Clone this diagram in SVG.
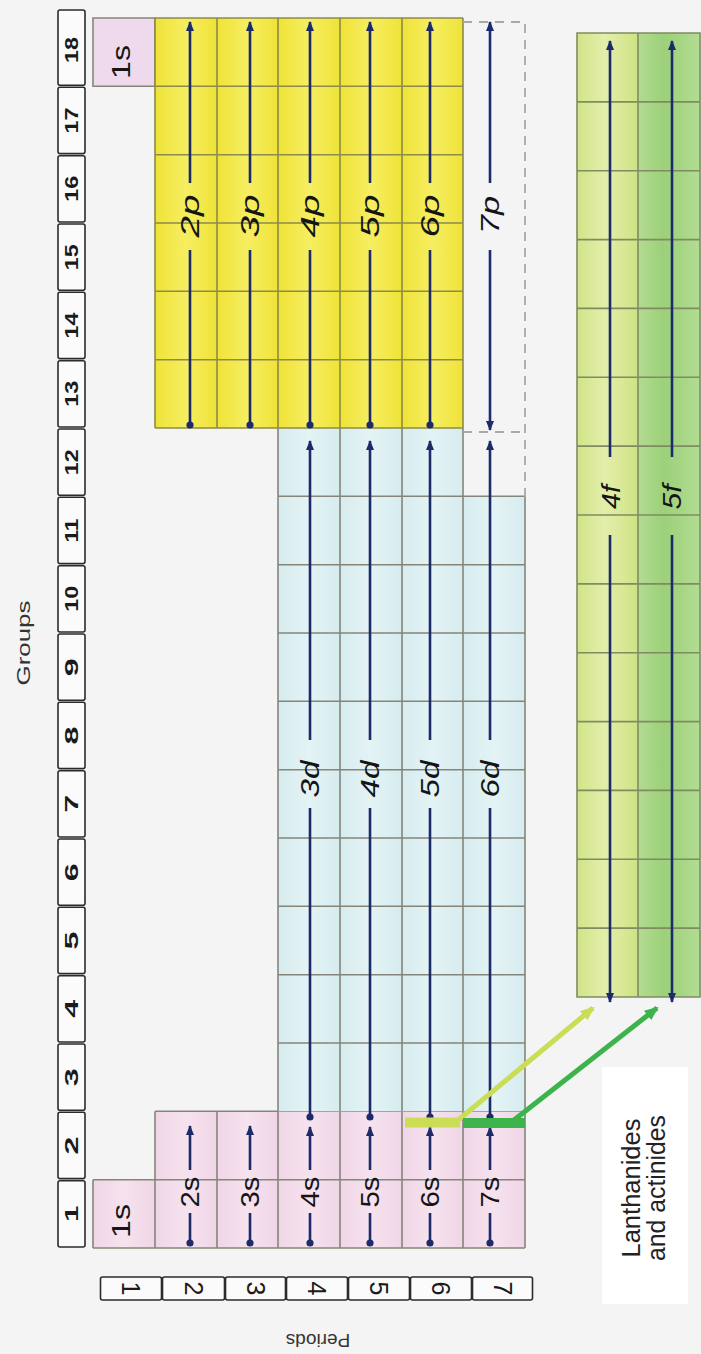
<svg xmlns="http://www.w3.org/2000/svg" width="701" height="1354" viewBox="0 0 701 1354">
<style>
.cellline{fill:none;stroke:#85857a;stroke-width:1.6}
.yline{fill:none;stroke:#8d8a4a;stroke-width:1.6}
.gline{fill:none;stroke:#7f8c62;stroke-width:1.6}
.hdr{fill:#fbfbfb;stroke:#2b2b2b;stroke-width:1.6}
.num{font-family:"Liberation Sans",Arial,sans-serif;font-weight:bold;font-size:19px;fill:#1a1a1a}
.pnum{font-family:"Liberation Sans",Arial,sans-serif;font-size:25px;fill:#1a1a1a}
.lab{font-family:"Liberation Sans",Arial,sans-serif;font-size:26px;fill:#151515}
.it{font-style:italic}
.arr{fill:none;stroke:#1d2b6b;stroke-width:2.6}
.title{font-family:"Liberation Sans",Arial,sans-serif;font-size:19px;fill:#333}
.lan{font-family:"Liberation Sans",Arial,sans-serif;font-size:25px;fill:#222}
.dash{fill:none;stroke:#a8a8a8;stroke-width:1.8;stroke-dasharray:9 7}
</style>
<defs>
<linearGradient id="gy" gradientUnits="userSpaceOnUse" x1="155" y1="0" x2="216.67" y2="0" spreadMethod="repeat">
<stop offset="0" stop-color="#efe337"/><stop offset="0.5" stop-color="#f6ee62"/><stop offset="1" stop-color="#efe337"/>
</linearGradient>
<linearGradient id="gb" gradientUnits="userSpaceOnUse" x1="278" y1="0" x2="339.67" y2="0" spreadMethod="repeat">
<stop offset="0" stop-color="#d6ecef"/><stop offset="0.5" stop-color="#e4f3f5"/><stop offset="1" stop-color="#d6ecef"/>
</linearGradient>
<linearGradient id="gp" gradientUnits="userSpaceOnUse" x1="93" y1="0" x2="154.67" y2="0" spreadMethod="repeat">
<stop offset="0" stop-color="#f0d6e7"/><stop offset="0.5" stop-color="#f6e2ee"/><stop offset="1" stop-color="#f0d6e7"/>
</linearGradient>
<linearGradient id="gf4" gradientUnits="userSpaceOnUse" x1="577" y1="0" x2="638" y2="0">
<stop offset="0" stop-color="#d0e488"/><stop offset="0.45" stop-color="#e3eeaa"/><stop offset="0.7" stop-color="#dbe99a"/><stop offset="1" stop-color="#cce383"/>
</linearGradient>
<linearGradient id="gf5" gradientUnits="userSpaceOnUse" x1="638" y1="0" x2="700" y2="0">
<stop offset="0" stop-color="#b3dc92"/><stop offset="0.4" stop-color="#9dd07a"/><stop offset="0.7" stop-color="#a6d684"/><stop offset="1" stop-color="#b4dd94"/>
</linearGradient>
<marker id="ah" viewBox="0 0 10 8" refX="9" refY="4" markerWidth="10" markerHeight="8" markerUnits="userSpaceOnUse" orient="auto">
<path d="M0,0L10,4L0,8z" fill="#1d2b6b"/>
</marker>
<marker id="dot" viewBox="0 0 8 8" refX="4" refY="4" markerWidth="8" markerHeight="8" markerUnits="userSpaceOnUse">
<circle cx="4" cy="4" r="3.6" fill="#1d2b6b"/>
</marker>
<marker id="ahL" viewBox="0 0 14 12" refX="12" refY="6" markerWidth="14" markerHeight="12" markerUnits="userSpaceOnUse" orient="auto">
<path d="M0,0L14,6L0,12z" fill="#cadd55"/>
</marker>
<marker id="ahD" viewBox="0 0 14 12" refX="12" refY="6" markerWidth="14" markerHeight="12" markerUnits="userSpaceOnUse" orient="auto">
<path d="M0,0L14,6L0,12z" fill="#3cb44b"/>
</marker>
</defs>

<rect x="0" y="0" width="701" height="1354" fill="#f4f4f4"/>

<g id="groups-label"><text class="title" text-anchor="middle" dominant-baseline="central" textLength="85" lengthAdjust="spacingAndGlyphs" transform="translate(23,643) rotate(-90)">Groups</text></g>

<g id="groups-header">
<rect class="hdr" x="58" y="10" width="27" height="75.3" rx="2"/>
<rect class="hdr" x="58" y="87.3" width="27" height="66.3" rx="2"/>
<rect class="hdr" x="58" y="155.7" width="27" height="66.3" rx="2"/>
<rect class="hdr" x="58" y="224" width="27" height="66.3" rx="2"/>
<rect class="hdr" x="58" y="292.3" width="27" height="66.3" rx="2"/>
<rect class="hdr" x="58" y="360.7" width="27" height="66.3" rx="2"/>
<rect class="hdr" x="58" y="429" width="27" height="66.3" rx="2"/>
<rect class="hdr" x="58" y="497.3" width="27" height="66.3" rx="2"/>
<rect class="hdr" x="58" y="565.7" width="27" height="66.3" rx="2"/>
<rect class="hdr" x="58" y="634" width="27" height="66.3" rx="2"/>
<rect class="hdr" x="58" y="702.3" width="27" height="66.3" rx="2"/>
<rect class="hdr" x="58" y="770.7" width="27" height="66.3" rx="2"/>
<rect class="hdr" x="58" y="839" width="27" height="66.3" rx="2"/>
<rect class="hdr" x="58" y="907.3" width="27" height="66.3" rx="2"/>
<rect class="hdr" x="58" y="975.7" width="27" height="66.3" rx="2"/>
<rect class="hdr" x="58" y="1044" width="27" height="66.3" rx="2"/>
<rect class="hdr" x="58" y="1112.3" width="27" height="66.3" rx="2"/>
<rect class="hdr" x="58" y="1180.7" width="27" height="66.3" rx="2"/>
<g text-anchor="middle" dominant-baseline="central">
<text class="num" textLength="26" lengthAdjust="spacingAndGlyphs" transform="translate(71.5,50) rotate(-90)">18</text>
<text class="num" textLength="26" lengthAdjust="spacingAndGlyphs" transform="translate(71.5,120.5) rotate(-90)">17</text>
<text class="num" textLength="26" lengthAdjust="spacingAndGlyphs" transform="translate(71.5,188.8) rotate(-90)">16</text>
<text class="num" textLength="26" lengthAdjust="spacingAndGlyphs" transform="translate(71.5,257.2) rotate(-90)">15</text>
<text class="num" textLength="26" lengthAdjust="spacingAndGlyphs" transform="translate(71.5,325.5) rotate(-90)">14</text>
<text class="num" textLength="26" lengthAdjust="spacingAndGlyphs" transform="translate(71.5,393.8) rotate(-90)">13</text>
<text class="num" textLength="26" lengthAdjust="spacingAndGlyphs" transform="translate(71.5,462.2) rotate(-90)">12</text>
<text class="num" textLength="24" lengthAdjust="spacingAndGlyphs" transform="translate(71.5,530.5) rotate(-90)">11</text>
<text class="num" textLength="26" lengthAdjust="spacingAndGlyphs" transform="translate(71.5,598.8) rotate(-90)">10</text>
<text class="num" textLength="18" lengthAdjust="spacingAndGlyphs" transform="translate(71.5,667.2) rotate(-90)">9</text>
<text class="num" textLength="18" lengthAdjust="spacingAndGlyphs" transform="translate(71.5,735.5) rotate(-90)">8</text>
<text class="num" textLength="18" lengthAdjust="spacingAndGlyphs" transform="translate(71.5,803.8) rotate(-90)">7</text>
<text class="num" textLength="18" lengthAdjust="spacingAndGlyphs" transform="translate(71.5,872.2) rotate(-90)">6</text>
<text class="num" textLength="18" lengthAdjust="spacingAndGlyphs" transform="translate(71.5,940.5) rotate(-90)">5</text>
<text class="num" textLength="18" lengthAdjust="spacingAndGlyphs" transform="translate(71.5,1008.8) rotate(-90)">4</text>
<text class="num" textLength="18" lengthAdjust="spacingAndGlyphs" transform="translate(71.5,1077.2) rotate(-90)">3</text>
<text class="num" textLength="18" lengthAdjust="spacingAndGlyphs" transform="translate(71.5,1145.5) rotate(-90)">2</text>
<text class="num" textLength="16" lengthAdjust="spacingAndGlyphs" transform="translate(71.5,1213.8) rotate(-90)">1</text>
</g>
</g>

<g id="s-block">
<rect x="93" y="1179.7" width="62" height="68.3" fill="url(#gp)"/>
<rect x="93" y="18" width="62" height="68.3" fill="#eedaec"/>
<rect x="155" y="1111.3" width="370" height="136.7" fill="url(#gp)"/>
<path class="cellline" d="M93 18H155V86.3H93Z M93 1179.7V1248 M155 1111.3V1248 M217 1111.3V1248 M278 1111.3V1248 M340 1111.3V1248 M402 1111.3V1248 M463 1111.3V1248 M525 1111.3V1248 M93 1179.7H525 M93 1248H525 M155 1111.3H525"/>
</g>

<g id="d-block">
<rect x="278" y="428" width="185" height="683.3" fill="url(#gb)"/>
<rect x="463" y="496.3" width="62" height="615" fill="url(#gb)"/>
<path class="cellline" d="M278 428V1111.3 M340 428V1111.3 M402 428V1111.3 M463 428V1111.3 M525 496.3V1111.3 M278 496.3H525 M278 564.7H525 M278 633H525 M278 701.3H525 M278 769.7H525 M278 838H525 M278 906.3H525 M278 974.7H525 M278 1043H525"/>
</g>

<g id="p-block">
<rect x="155" y="18" width="308" height="410" fill="url(#gy)"/>
<path class="yline" d="M155 18V428 M217 18V428 M278 18V428 M340 18V428 M402 18V428 M463 18V428 M155 18H463 M155 86.3H463 M155 154.7H463 M155 223H463 M155 291.3H463 M155 359.7H463 M155 428H463"/>
<path class="dash" d="M463 22H525V497 M463 432H525"/>
</g>

<g id="f-block">
<rect x="577" y="33" width="61" height="964" fill="url(#gf4)"/>
<rect x="638" y="33" width="62" height="964" fill="url(#gf5)"/>
<path class="gline" d="M577 33H700V997H577Z M638 33V997 M577 101.9H700 M577 170.7H700 M577 239.6H700 M577 308.4H700 M577 377.3H700 M577 446.1H700 M577 515H700 M577 583.9H700 M577 652.7H700 M577 721.6H700 M577 790.4H700 M577 859.3H700 M577 928.1H700"/>
</g>

<g id="periods">
<rect class="hdr" x="100.5" y="1277" width="61" height="23" rx="2"/>
<rect class="hdr" x="162.5" y="1277" width="62" height="23" rx="2"/>
<rect class="hdr" x="225.5" y="1277" width="60" height="23" rx="2"/>
<rect class="hdr" x="286.5" y="1277" width="61" height="23" rx="2"/>
<rect class="hdr" x="348.5" y="1277" width="61" height="23" rx="2"/>
<rect class="hdr" x="410.5" y="1277" width="61" height="23" rx="2"/>
<rect class="hdr" x="472.5" y="1277" width="60" height="23" rx="2"/>
<g text-anchor="middle" dominant-baseline="central">
<text class="pnum" transform="translate(131,1288.5) rotate(90)">1</text>
<text class="pnum" transform="translate(193.5,1288.5) rotate(90)">2</text>
<text class="pnum" transform="translate(255.5,1288.5) rotate(90)">3</text>
<text class="pnum" transform="translate(317,1288.5) rotate(90)">4</text>
<text class="pnum" transform="translate(379,1288.5) rotate(90)">5</text>
<text class="pnum" transform="translate(441,1288.5) rotate(90)">6</text>
<text class="pnum" transform="translate(502.5,1288.5) rotate(90)">7</text>
</g>
<text class="title" text-anchor="middle" dominant-baseline="central" transform="translate(318,1340) rotate(180)">Periods</text>
</g>

<g id="lanthanides-label">
<rect x="602" y="1067" width="86" height="237" fill="#ffffff"/>
<text class="lan" text-anchor="middle" textLength="139" lengthAdjust="spacingAndGlyphs" transform="translate(640,1188) rotate(-90)">Lanthanides</text>
<text class="lan" text-anchor="middle" textLength="146" lengthAdjust="spacingAndGlyphs" transform="translate(665,1188) rotate(-90)">and actinides</text>
</g>

<g id="connectors">
<g class="arr">
<path d="M190 1243V1213" marker-start="url(#dot)"/><path d="M190 1170V1126" marker-end="url(#ah)"/>
<path d="M250 1243V1213" marker-start="url(#dot)"/><path d="M250 1170V1126" marker-end="url(#ah)"/>
<path d="M310 1243V1213" marker-start="url(#dot)"/><path d="M310 1170V1127" marker-end="url(#ah)"/>
<path d="M370 1243V1213" marker-start="url(#dot)"/><path d="M370 1170V1127" marker-end="url(#ah)"/>
<path d="M430 1243V1213" marker-start="url(#dot)"/><path d="M430 1170V1127" marker-end="url(#ah)"/>
<path d="M490 1243V1213" marker-start="url(#dot)"/><path d="M490 1170V1127" marker-end="url(#ah)"/>

<path d="M310 1117V808" marker-start="url(#dot)"/><path d="M310 740V441" marker-end="url(#ah)"/>
<path d="M370 1117V808" marker-start="url(#dot)"/><path d="M370 740V441" marker-end="url(#ah)"/>
<path d="M430 1117V808" marker-start="url(#dot)"/><path d="M430 740V441" marker-end="url(#ah)"/>
<path d="M490 1117V808" marker-start="url(#dot)"/><path d="M490 740V441" marker-end="url(#ah)"/>

<path d="M190 425V250" marker-start="url(#dot)"/><path d="M190 183V22" marker-end="url(#ah)"/>
<path d="M250 425V250" marker-start="url(#dot)"/><path d="M250 183V22" marker-end="url(#ah)"/>
<path d="M310 425V250" marker-start="url(#dot)"/><path d="M310 183V22" marker-end="url(#ah)"/>
<path d="M370 425V250" marker-start="url(#dot)"/><path d="M370 183V22" marker-end="url(#ah)"/>
<path d="M430 425V250" marker-start="url(#dot)"/><path d="M430 183V22" marker-end="url(#ah)"/>
<path d="M490 250V430" marker-end="url(#ah)"/><path d="M490 183V22" marker-end="url(#ah)"/>

<path d="M610 457V41" marker-end="url(#ah)"/><path d="M610 535V1002" marker-end="url(#ah)"/>
<path d="M672 457V41" marker-end="url(#ah)"/><path d="M672 535V1002" marker-end="url(#ah)"/>
</g>
<path d="M405 1122.5H460" stroke="#cadd55" stroke-width="10" fill="none"/>
<path d="M457 1121L593 1008" stroke="#cadd55" stroke-width="5" fill="none" marker-end="url(#ahL)"/>
<path d="M463 1123H525" stroke="#3cb44b" stroke-width="10" fill="none"/>
<path d="M514 1120L657 1008" stroke="#3cb44b" stroke-width="5" fill="none" marker-end="url(#ahD)"/>
</g>

<g id="labels" text-anchor="middle" dominant-baseline="central">
<text class="lab" textLength="34" lengthAdjust="spacingAndGlyphs" transform="translate(121,62) rotate(-90)">1s</text>
<text class="lab" textLength="34" lengthAdjust="spacingAndGlyphs" transform="translate(121,1221) rotate(-90)">1s</text>
<text class="lab" textLength="31" lengthAdjust="spacingAndGlyphs" transform="translate(190,1192) rotate(-90)">2s</text>
<text class="lab" textLength="31" lengthAdjust="spacingAndGlyphs" transform="translate(250,1192) rotate(-90)">3s</text>
<text class="lab" textLength="31" lengthAdjust="spacingAndGlyphs" transform="translate(310,1192) rotate(-90)">4s</text>
<text class="lab" textLength="31" lengthAdjust="spacingAndGlyphs" transform="translate(370,1192) rotate(-90)">5s</text>
<text class="lab" textLength="31" lengthAdjust="spacingAndGlyphs" transform="translate(430,1192) rotate(-90)">6s</text>
<text class="lab" textLength="31" lengthAdjust="spacingAndGlyphs" transform="translate(490,1192) rotate(-90)">7s</text>
<text class="lab it" textLength="37" lengthAdjust="spacingAndGlyphs" transform="translate(310,779) rotate(-90)">3d</text>
<text class="lab it" textLength="37" lengthAdjust="spacingAndGlyphs" transform="translate(370,779) rotate(-90)">4d</text>
<text class="lab it" textLength="37" lengthAdjust="spacingAndGlyphs" transform="translate(430,779) rotate(-90)">5d</text>
<text class="lab it" textLength="37" lengthAdjust="spacingAndGlyphs" transform="translate(490,779) rotate(-90)">6d</text>
<text class="lab it" textLength="43" lengthAdjust="spacingAndGlyphs" transform="translate(190,216) rotate(-90)">2p</text>
<text class="lab it" textLength="43" lengthAdjust="spacingAndGlyphs" transform="translate(250,216) rotate(-90)">3p</text>
<text class="lab it" textLength="43" lengthAdjust="spacingAndGlyphs" transform="translate(310,216) rotate(-90)">4p</text>
<text class="lab it" textLength="43" lengthAdjust="spacingAndGlyphs" transform="translate(370,216) rotate(-90)">5p</text>
<text class="lab it" textLength="43" lengthAdjust="spacingAndGlyphs" transform="translate(430,216) rotate(-90)">6p</text>
<text class="lab it" textLength="38" lengthAdjust="spacingAndGlyphs" transform="translate(490,215) rotate(-90)">7p</text>
<text class="lab it" textLength="24" lengthAdjust="spacingAndGlyphs" transform="translate(611,497) rotate(-90)">4f</text>
<text class="lab it" textLength="25" lengthAdjust="spacingAndGlyphs" transform="translate(672,497) rotate(-90)">5f</text>
</g>
</svg>
